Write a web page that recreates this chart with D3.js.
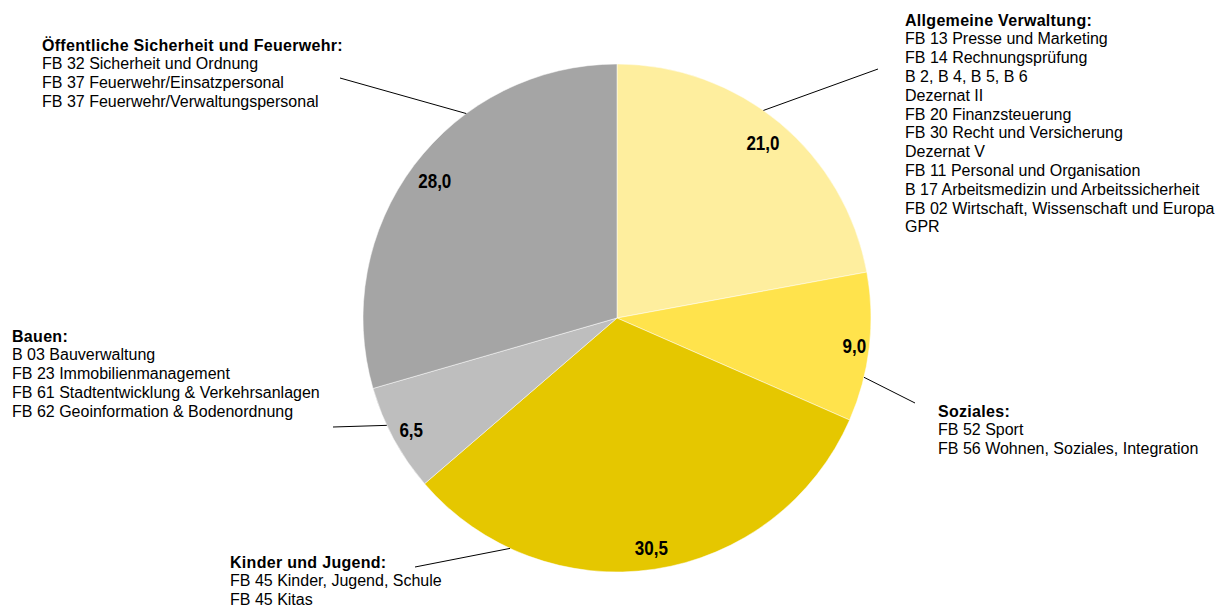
<!DOCTYPE html>
<html>
<head>
<meta charset="utf-8">
<script src="https://cdn.jsdelivr.net/npm/d3@7"></script>
<style>
  body { margin: 0; background: #fff; }
  svg text { font-family: "Liberation Sans", Arial, sans-serif; }
</style>
</head>
<body>
<div id="box-div"></div>
<script>
// Kategorien und Werte (im Uhrzeigersinn ab 12 Uhr)
const categories = ['Allgemeine Verwaltung', 'Soziales', 'Kinder und Jugend', 'Bauen', 'Öffentliche Sicherheit und Feuerwehr']
const values = [21.0, 9.0, 30.5, 6.5, 28.0]
const colors = ['#feee9e', '#ffe34c', '#e5c700', '#bebebe', '#a5a5a5']
const details = [
    ['FB 13 Presse und Marketing', 'FB 14 Rechnungsprüfung', 'B 2, B 4, B 5, B 6', 'Dezernat II',
        'FB 20 Finanzsteuerung', 'FB 30 Recht und Versicherung', 'Dezernat V', 'FB 11 Personal und Organisation',
        'B 17 Arbeitsmedizin und Arbeitssicherheit', 'FB 02 Wirtschaft, Wissenschaft und Europa', 'GPR'],
    ['FB 52 Sport', 'FB 56 Wohnen, Soziales, Integration'],
    ['FB 45 Kinder, Jugend, Schule', 'FB 45 Kitas'],
    ['B 03 Bauverwaltung', 'FB 23 Immobilienmanagement', 'FB 61 Stadtentwicklung & Verkehrsanlagen',
        'FB 62 Geoinformation & Bodenordnung'],
    ['FB 32 Sicherheit und Ordnung', 'FB 37 Feuerwehr/Einsatzpersonal', 'FB 37 Feuerwehr/Verwaltungspersonal']
]

// Layout der Beschriftungen (Textblock-Position, Ende der Führungslinie, Winkel am Kreis, Radius Wertlabel)
const callouts = [
    { x: 905, y: 25.5, lx: 878, ly: 69, a: 35.2, lr: 228 },
    { x: 938, y: 416.5, lx: 915, ly: 403, a: 103.5, lr: 239 },
    { x: 230, y: 567.5, lx: 415, ly: 567, a: 204.9, lr: 232 },
    { x: 12, y: 341.5, lx: 333, ly: 427, a: 245, lr: 234 },
    { x: 42, y: 50.5, lx: 340, ly: 78, a: 323.6, lr: 228 }
]

let dms = { width: 1228, height: 608, cx: 617, cy: 318, r: 254 }
const lineH = 18.8

const svg = d3.select('#box-div').append('svg')
    .attr('width', dms.width)
    .attr('height', dms.height)

const content = svg.append('g')
    .attr('transform', `translate(${dms.cx}, ${dms.cy})`)

const pie = d3.pie().sort(null).value(d => d)
const arcs = pie(values)
const arc = d3.arc().innerRadius(0).outerRadius(dms.r)

// Segmente
content.selectAll('.slice')
    .data(arcs)
    .enter()
    .append('path')
    .attr('class', 'slice')
    .attr('d', arc)
    .attr('fill', (d, i) => colors[i])
    .attr('stroke', '#fff')
    .attr('stroke-width', 0.5)

// Wertbeschriftungen
const fmt = v => d3.format('.1f')(v).replace('.', ',')
content.selectAll('.val')
    .data(arcs)
    .enter()
    .append('text')
    .attr('class', 'val')
    .attr('transform', (d, i) => {
        const lr = callouts[i].lr
        const [x, y] = d3.arc().innerRadius(lr).outerRadius(lr).centroid(d)
        return `translate(${x}, ${y}) scale(0.85, 1)`
    })
    .attr('text-anchor', 'middle')
    .attr('dy', '0.36em')
    .style('font-size', '20px')
    .style('font-weight', 'bold')
    .text(d => fmt(d.data))

// Führungslinien
const rad = Math.PI / 180
content.selectAll('.leader')
    .data(callouts)
    .enter()
    .append('line')
    .attr('class', 'leader')
    .attr('x1', d => dms.r * Math.sin(d.a * rad))
    .attr('y1', d => -dms.r * Math.cos(d.a * rad))
    .attr('x2', d => d.lx - dms.cx)
    .attr('y2', d => d.ly - dms.cy)
    .attr('stroke', '#000')
    .attr('stroke-width', 1)

// Textblöcke
const blocks = svg.selectAll('.block')
    .data(categories)
    .enter()
    .append('text')
    .attr('class', 'block')
    .attr('x', (d, i) => callouts[i].x)
    .attr('y', (d, i) => callouts[i].y)
    .style('font-size', '16px')
    .attr('fill', '#000')

blocks.each(function (d, i) {
    const t = d3.select(this)
    t.append('tspan')
        .attr('x', callouts[i].x)
        .style('font-weight', 'bold')
        .style('letter-spacing', '0.3px')
        .text(d + ':')
    details[i].forEach(line => {
        t.append('tspan')
            .attr('x', callouts[i].x)
            .attr('dy', lineH)
            .text(line)
    })
})
</script>
</body>
</html>
